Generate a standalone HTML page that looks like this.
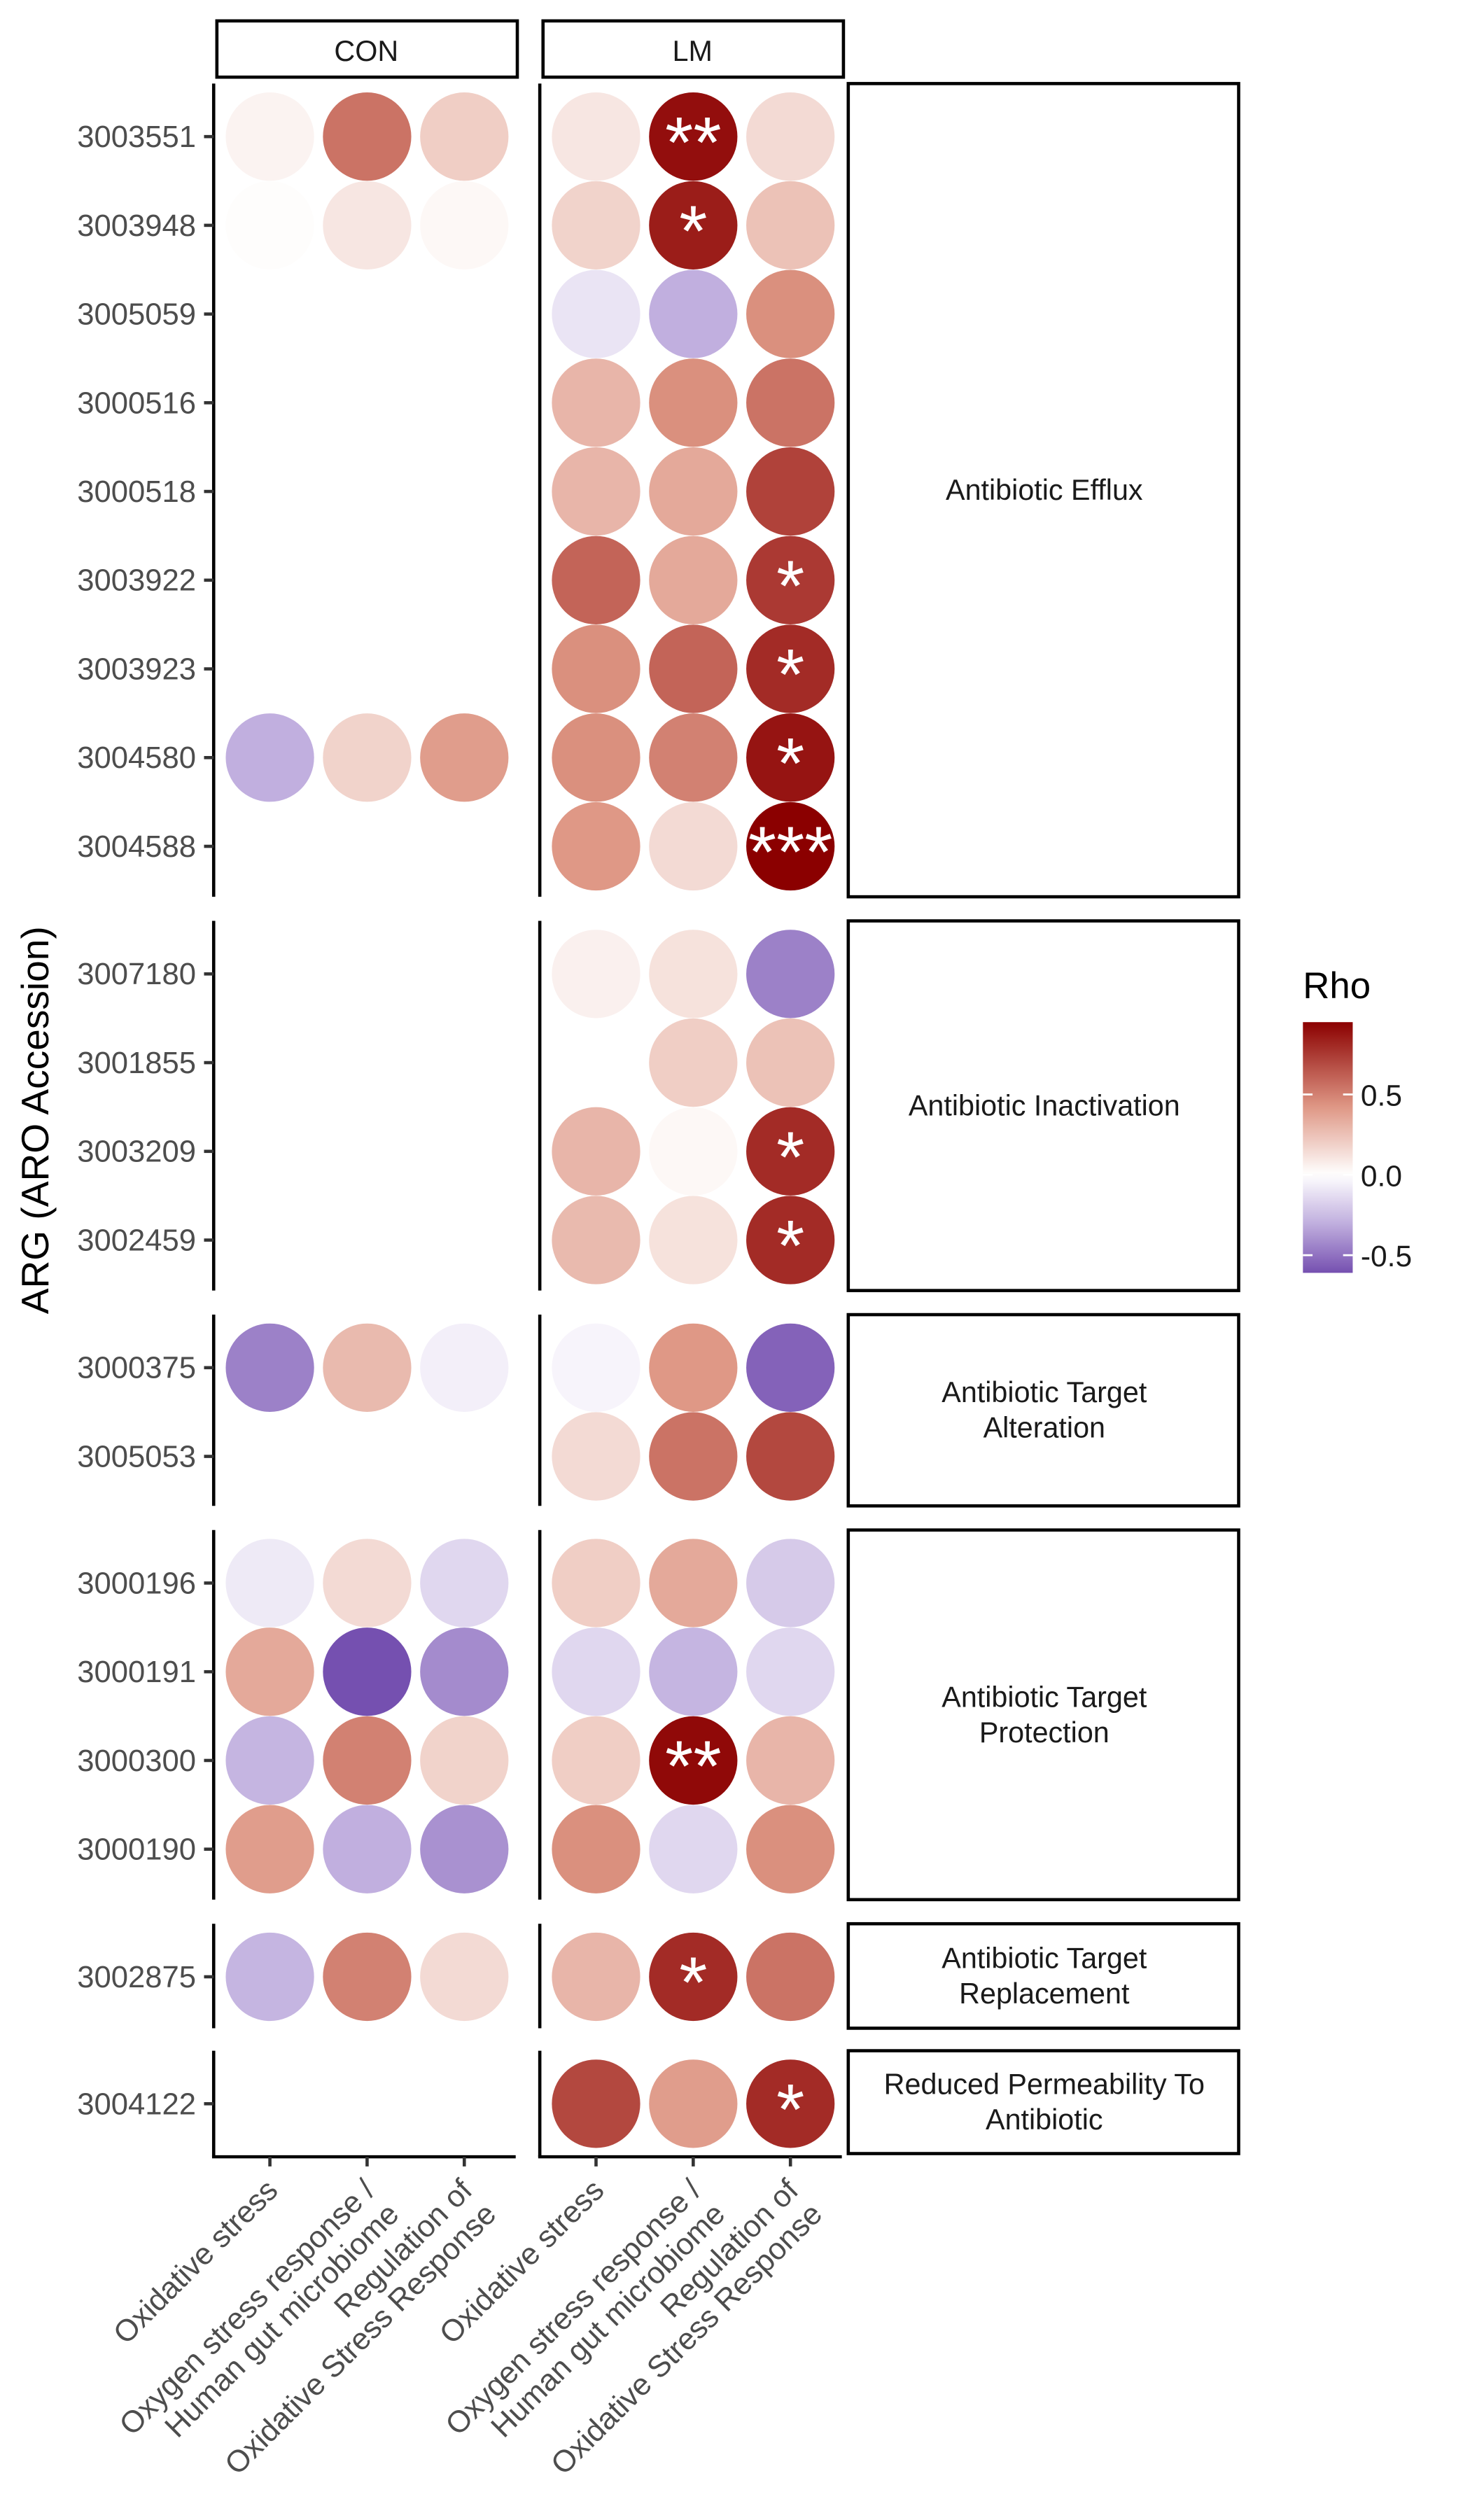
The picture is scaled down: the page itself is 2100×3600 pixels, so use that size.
<!DOCTYPE html>
<html><head><meta charset="utf-8"><style>
html,body{margin:0;padding:0;background:#fff;}
svg{display:block;}
text{font-family:"Liberation Sans",Arial,sans-serif;}
</style></head><body>
<svg id="chart" width="2100" height="3600" viewBox="0 0 915 1568" preserveAspectRatio="none" xmlns="http://www.w3.org/2000/svg">
<g id="root"></g>
</svg>
<script>
const rowLabels = ["3003551","3003948","3005059","3000516","3000518","3003922","3003923","3004580","3004588","3007180","3001855","3003209","3002459","3000375","3005053","3000196","3000191","3000300","3000190","3002875","3004122"];
const rowGroups = [0,0,0,0,0,0,0,0,0,1,1,1,1,2,2,3,3,3,3,4,5];
const groupNames = [["Antibiotic Efflux"],["Antibiotic Inactivation"],["Antibiotic Target","Alteration"],["Antibiotic Target","Protection"],["Antibiotic Target","Replacement"],["Reduced Permeability To","Antibiotic"]];
const panels = ["CON","LM"];
const xCats = [["Oxidative stress"],["Oxygen stress response /","Human gut microbiome"],["Regulation of","Oxidative Stress Response"]];
// null = no circle
const conValues = [
[0.05,0.55,0.2],[0.01,0.1,0.03],[null,null,null],[null,null,null],[null,null,null],[null,null,null],[null,null,null],
[-0.3,0.18,0.4],[null,null,null],[null,null,null],[null,null,null],[null,null,null],[null,null,null],
[-0.45,0.28,-0.06],[null,null,null],[-0.08,0.15,-0.15],[0.35,-0.61,-0.42],[-0.28,0.5,0.18],[0.4,-0.3,-0.4],[-0.28,0.5,0.15],[null,null,null]];
const lmValues = [
[0.1,0.9,0.15],[0.18,0.85,0.25],[-0.1,-0.3,0.45],[0.3,0.45,0.55],[0.3,0.35,0.72],[0.6,0.35,0.75],[0.45,0.6,0.8],
[0.45,0.5,0.88],[0.42,0.15,0.95],[0.06,0.12,-0.45],[0.0,0.2,0.25],[0.3,0.03,0.8],[0.28,0.12,0.8],
[-0.04,0.42,-0.55],[0.15,0.55,0.7],[0.2,0.35,-0.2],[-0.15,-0.28,-0.15],[0.2,0.92,0.3],[0.45,-0.15,0.45],[0.3,0.8,0.55],[0.7,0.4,0.8]];
const lmSig = [
["","**",""],["","*",""],["","",""],["","",""],["","",""],["","","*"],["","","*"],["","","*"],["","","***"],
["","",""],["","",""],["","","*"],["","","*"],["","",""],["","",""],["","",""],["","",""],["","**",""],["","",""],["","*",""],["","","*"]];
const legendTicks = [0.5,0.0,-0.5];
const legendMin = -0.61, legendMax = 0.95;

const NS="http://www.w3.org/2000/svg";
const root=document.getElementById('root');
function mk(tag,attrs,parent){const e=document.createElementNS(NS,tag);for(const k in attrs)e.setAttribute(k,attrs[k]);(parent||root).appendChild(e);return e;}

const groupTop=[52,573,818,952,1197,1276], groupBot=[558,803,937,1182,1262,1340];
const rowStep=55.2;
const firstRowOffset=33;
function yRow(i){const g=rowGroups[i];const first=rowGroups.indexOf(g);return groupTop[g]+firstRowOffset+(i-first)*rowStep;}
const panelLeft=[133,336], colStep=60.5;
function xCol(p,j){return panelLeft[p]+35+j*colStep;}
function lerp(a,b,t){return Math.round(a+(b-a)*t);}
function color(v){
  if(v>=0){const t=Math.min(v/legendMax,1);return mixc([[255,255,255],[222,150,132],[139,0,0]],t,0.45);}
  const t=Math.min(-v/(-legendMin),1);return mixc([[255,255,255],[192,174,222],[117,80,176]],t,0.5);
}
function mixc(s,t,m){let a,b,u;if(t<m){a=s[0];b=s[1];u=t/m;}else{a=s[1];b=s[2];u=(t-m)/(1-m);}return `rgb(${lerp(a[0],b[0],u)},${lerp(a[1],b[1],u)},${lerp(a[2],b[2],u)})`;}

panels.forEach((p,pi)=>{
  const r=mk('rect',{x:panelLeft[pi]+2,y:13,width:187,height:35,fill:'#fff',stroke:'#000','stroke-width':2});
  
  
  const t=mk('text',{x:panelLeft[pi]+95,y:38,'text-anchor':'middle','font-size':18,fill:'#1a1a1a'});t.textContent=p;
  
  
});
groupTop.forEach((gt,g)=>{
  const gb=groupBot[g];
  panelLeft.forEach((pl,pi)=>{
    const l=mk('line',{x1:pl,y1:gt,x2:pl,y2:gb+(g===5?2:0),stroke:'#000','stroke-width':2});
    
    
  });
  const r=mk('rect',{x:528,y:gt,width:243,height:gb-gt,fill:'#fff',stroke:'#000','stroke-width':2});
  
  
  const lines=groupNames[g];const cy=(gt+gb)/2;
  lines.forEach((ln,k)=>{
    const t=mk('text',{x:650,y:cy+6+(k-(lines.length-1)/2)*22,'text-anchor':'middle','font-size':18,fill:'#1a1a1a'});t.textContent=ln;
    
    
  });
});
rowLabels.forEach((lab,i)=>{
  const y=yRow(i);
  const t=mk('text',{x:122,y:y+6.5,'text-anchor':'end','font-size':19,fill:'#4d4d4d'});t.textContent=lab;
  
  
  const tk=mk('line',{x1:127,y1:y,x2:133,y2:y,stroke:'#333','stroke-width':2});
  
  
});
[conValues,lmValues].forEach((vals,pi)=>{
  vals.forEach((row,i)=>{
    row.forEach((v,j)=>{
      if(v===null)return;
      const c=mk('circle',{cx:xCol(pi,j),cy:yRow(i),r:27.5,fill:color(v)});
      
      
      if(pi===1&&lmSig[i][j]){
        const t=mk('text',{x:xCol(pi,j),y:yRow(i)+19,'text-anchor':'middle','font-size':45,fill:'#fff'});t.textContent=lmSig[i][j];
        
        
      }
    });
  });
});
panelLeft.forEach((pl,pi)=>{
  const l=mk('line',{x1:pl-1,y1:1342,x2:pl+188,y2:1342,stroke:'#000','stroke-width':2});
  
  
  xCats.forEach((lines,j)=>{
    const x=xCol(pi,j);
    const tk=mk('line',{x1:x,y1:1342,x2:x,y2:1348,stroke:'#333','stroke-width':2});
    
    
    const t=mk('text',{transform:`translate(${x+6},${1364}) rotate(-45)`,'text-anchor':'end','font-size':19,fill:'#4d4d4d'});
    
    
    lines.forEach((ln,k)=>{const s=mk('tspan',{x:0,y:k*21},t);s.textContent=ln;});
  });
});
const yt=mk('text',{transform:'translate(30,697) rotate(-90)','text-anchor':'middle','font-size':24,fill:'#000'});yt.textContent='ARG (ARO Accession)';


const lt=mk('text',{x:811,y:621,'font-size':23,fill:'#000'});lt.textContent='Rho';


const legTop=636,legBot=792;
function yLeg(v){return legBot-(v-legendMin)/(legendMax-legendMin)*(legBot-legTop);}
const defs=mk('defs',{});
const grad=mk('linearGradient',{id:'lg',x1:0,y1:1,x2:0,y2:0},defs);
for(let k=0;k<=30;k++){const v=legendMin+(legendMax-legendMin)*k/30;mk('stop',{offset:k/30,'stop-color':color(v)},grad);}
const bar=mk('rect',{x:811,y:legTop,width:31,height:legBot-legTop,fill:'url(#lg)'});


legendTicks.forEach(v=>{
  const y=yLeg(v);
  mk('line',{x1:811,y1:y,x2:817,y2:y,stroke:'#fff','stroke-width':1.2});
  mk('line',{x1:836,y1:y,x2:842,y2:y,stroke:'#fff','stroke-width':1.2});
  const t=mk('text',{x:847,y:y+7,'font-size':18.5,fill:'#1a1a1a'});t.textContent=v.toFixed(1);
  
  
});
</script>
</body></html>
